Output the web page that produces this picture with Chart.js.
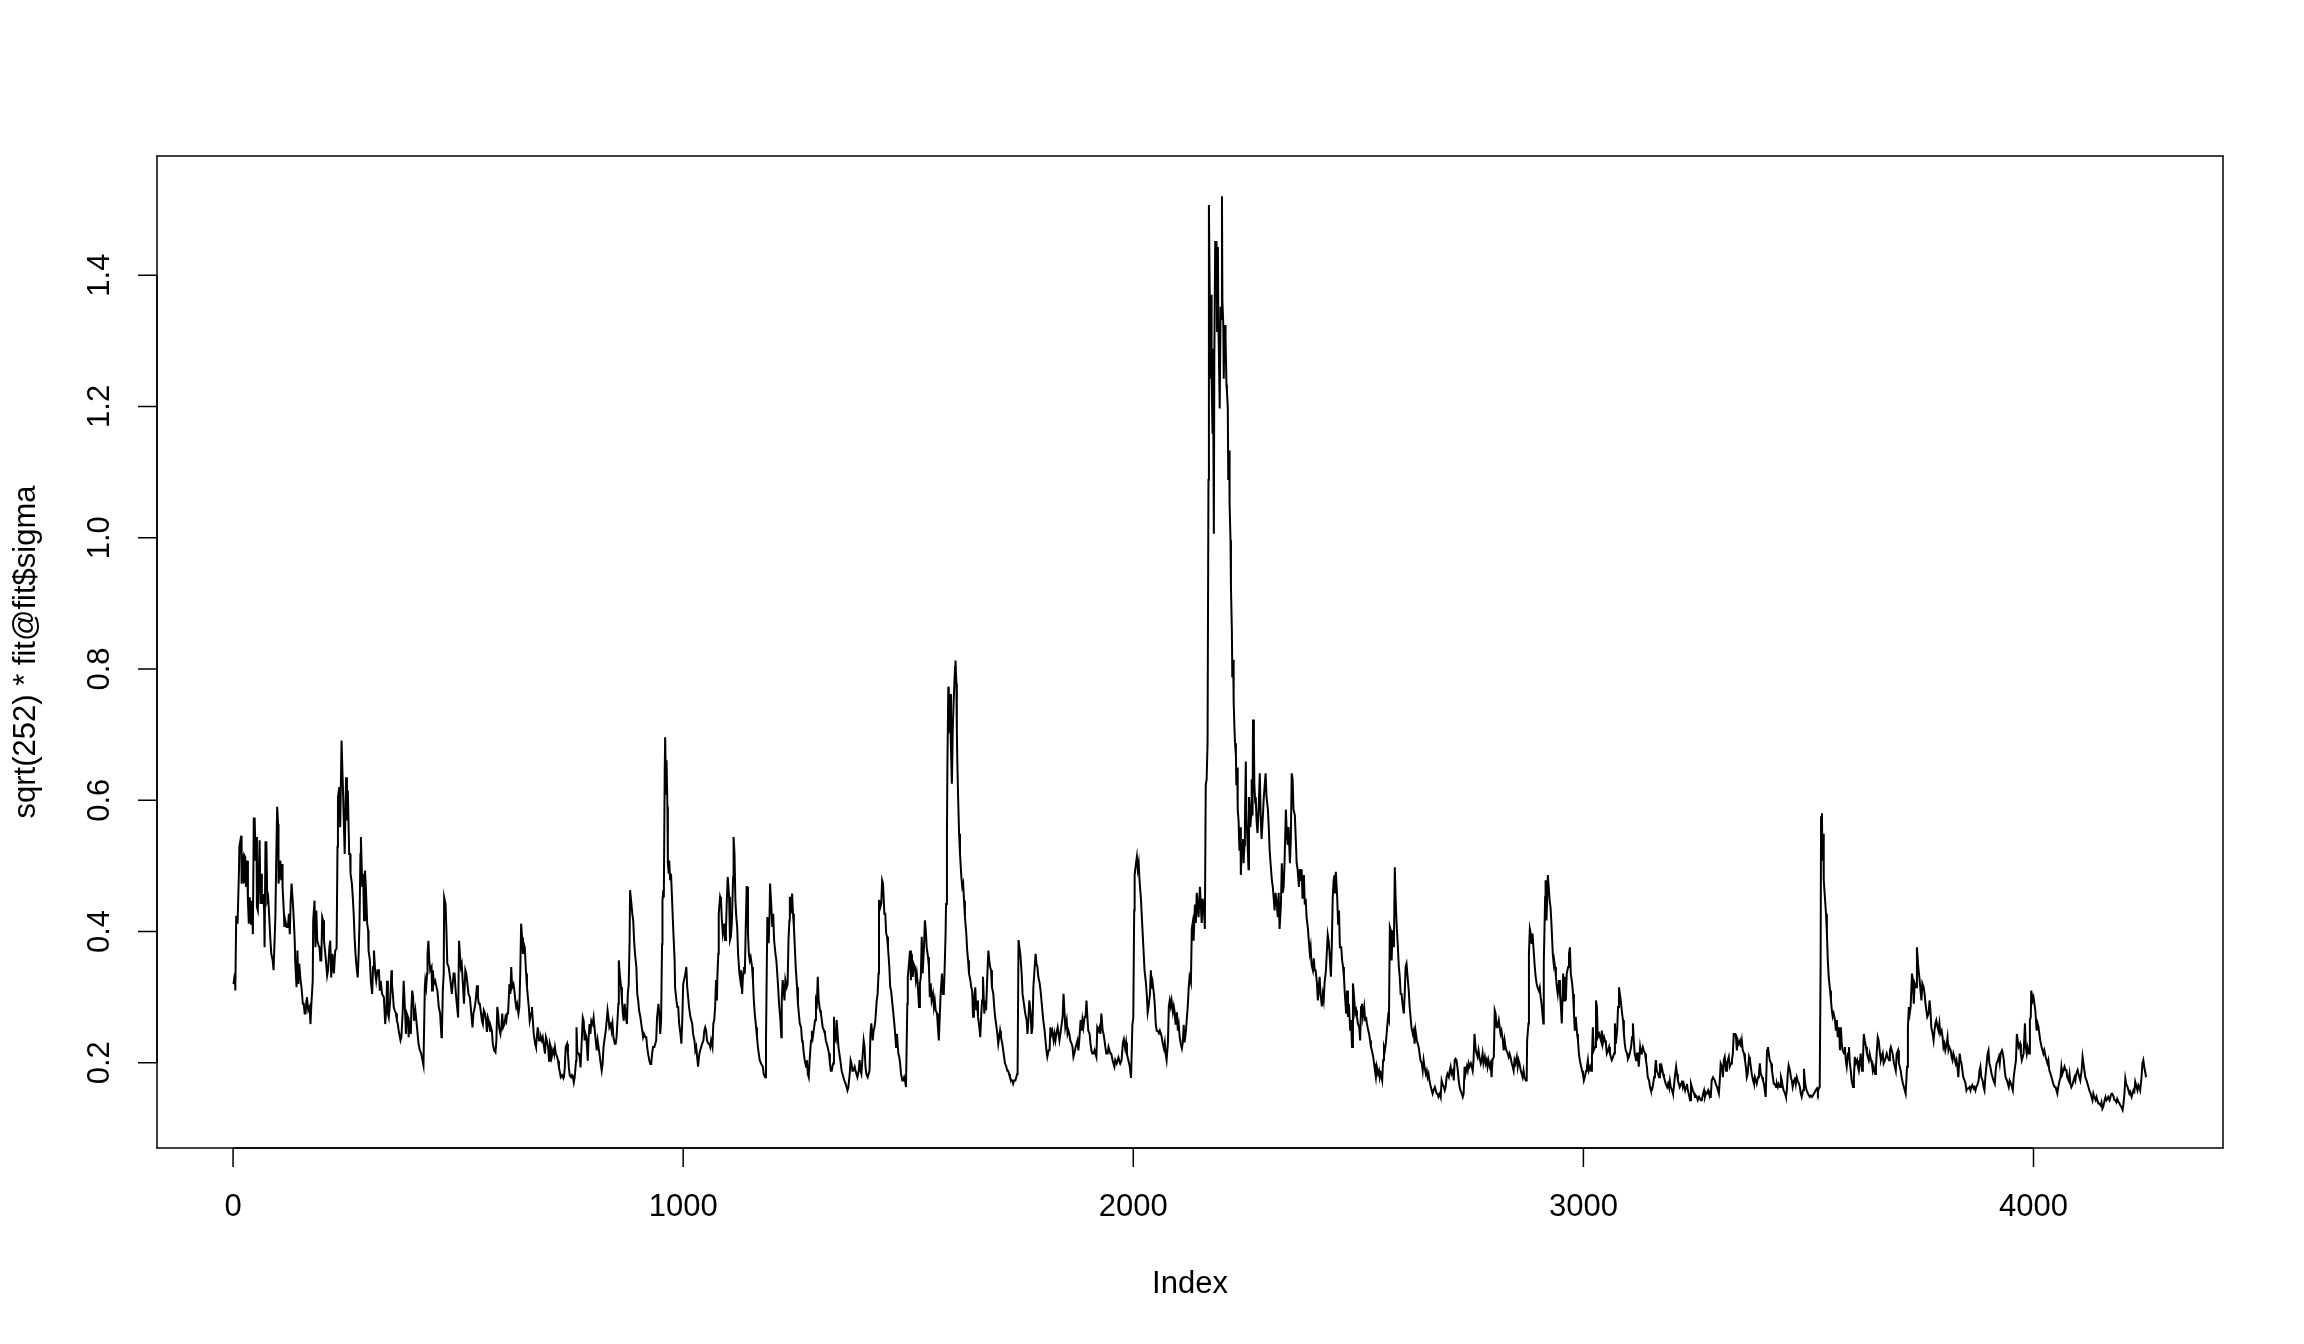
<!DOCTYPE html>
<html>
<head>
<meta charset="utf-8">
<script src="https://cdn.jsdelivr.net/npm/chart.js@4.4.0/dist/chart.umd.min.js"></script>
<style>
  html, body { margin: 0; padding: 0; background: #fff; }
  canvas { display: block; }
</style>
</head>
<body>
<canvas id="volChart" width="2304" height="1344"></canvas>
<script>
// axis ticks
const xTicks = [0, 1000, 2000, 3000, 4000];
const yTicks = [0.2, 0.4, 0.6, 0.8, 1.0, 1.2, 1.4];
const xTitle = 'Index';
const yTitle = 'sqrt(252) * fit@fit$sigma';

// annualised conditional volatility as [index, value]
const sigmaPoints = [
  [1,0.320],[4,0.336],[5,0.310],[7,0.424],[10,0.412],[13,0.490],[14,0.529],[18,0.546],[19,0.473],[21,0.518],[24,0.473],[25,0.516],[27,0.513],[29,0.468],[31,0.508],[33,0.447],[35,0.412],[37,0.452],[40,0.412],[42,0.447],[44,0.396],[46,0.572],[48,0.572],[50,0.508],[52,0.544],[53,0.437],[55,0.432],[57,0.488],[59,0.539],[61,0.442],[63,0.488],[64,0.442],[67,0.457],[69,0.432],[70,0.376],[72,0.536],[74,0.536],[76,0.447],[78,0.452],[80,0.427],[83,0.386],[85,0.366],[88,0.356],[90,0.341],[94,0.422],[96,0.513],[98,0.590],[100,0.564],[101,0.473],[105,0.508],[107,0.478],[109,0.503],[110,0.468],[113,0.427],[114,0.407],[116,0.417],[119,0.407],[122,0.407],[124,0.427],[126,0.396],[128,0.447],[130,0.473],[133,0.442],[135,0.417],[137,0.386],[138,0.356],[141,0.315],[143,0.371],[145,0.320],[147,0.351],[150,0.325],[152,0.315],[155,0.290],[157,0.290],[159,0.275],[161,0.275],[163,0.295],[164,0.300],[167,0.280],[170,0.285],[172,0.259],[174,0.290],[177,0.325],[178,0.417],[181,0.447],[183,0.376],[185,0.432],[187,0.386],[190,0.379],[192,0.376],[194,0.356],[196,0.356],[198,0.422],[200,0.417],[202,0.386],[205,0.366],[209,0.333],[211,0.341],[214,0.376],[216,0.386],[218,0.330],[221,0.366],[224,0.336],[227,0.371],[230,0.374],[232,0.529],[233,0.605],[236,0.620],[238,0.559],[241,0.691],[244,0.620],[246,0.569],[248,0.518],[251,0.635],[253,0.569],[255,0.615],[258,0.518],[260,0.518],[261,0.488],[264,0.473],[266,0.452],[268,0.427],[270,0.391],[272,0.366],[275,0.341],[277,0.330],[279,0.366],[281,0.417],[283,0.518],[284,0.544],[287,0.468],[289,0.488],[291,0.417],[293,0.493],[295,0.468],[298,0.412],[300,0.402],[301,0.371],[304,0.356],[306,0.325],[309,0.305],[311,0.346],[313,0.371],[316,0.336],[318,0.325],[321,0.341],[324,0.341],[326,0.310],[328,0.325],[331,0.305],[335,0.300],[338,0.259],[341,0.290],[342,0.325],[344,0.275],[346,0.269],[349,0.295],[352,0.341],[353,0.320],[355,0.305],[357,0.285],[359,0.280],[362,0.275],[364,0.264],[366,0.259],[368,0.249],[372,0.234],[374,0.239],[377,0.280],[379,0.325],[381,0.295],[383,0.264],[384,0.244],[386,0.275],[389,0.269],[390,0.239],[392,0.264],[395,0.244],[396,0.280],[398,0.310],[400,0.300],[402,0.264],[405,0.280],[408,0.259],[410,0.244],[412,0.229],[415,0.219],[418,0.214],[421,0.203],[423,0.196],[426,0.315],[427,0.325],[429,0.315],[431,0.336],[432,0.366],[434,0.386],[436,0.356],[438,0.341],[441,0.346],[442,0.310],[444,0.341],[446,0.320],[449,0.325],[452,0.315],[454,0.310],[457,0.285],[460,0.275],[463,0.239],[464,0.244],[466,0.310],[468,0.336],[469,0.452],[472,0.442],[474,0.402],[476,0.351],[479,0.346],[481,0.336],[483,0.325],[486,0.305],[490,0.336],[492,0.336],
  [495,0.305],[497,0.290],[500,0.269],[502,0.386],[504,0.386],[506,0.346],[508,0.351],[511,0.315],[513,0.290],[516,0.341],[518,0.336],[520,0.325],[523,0.305],[526,0.300],[528,0.285],[530,0.269],[532,0.254],[534,0.275],[537,0.285],[539,0.295],[542,0.318],[544,0.300],[546,0.290],[548,0.290],[551,0.275],[553,0.264],[555,0.259],[557,0.280],[560,0.275],[562,0.264],[564,0.247],[566,0.269],[568,0.264],[571,0.249],[573,0.254],[575,0.249],[577,0.229],[580,0.219],[583,0.216],[585,0.234],[587,0.285],[589,0.275],[591,0.254],[594,0.244],[596,0.254],[598,0.275],[600,0.254],[603,0.259],[605,0.269],[607,0.264],[609,0.275],[611,0.275],[614,0.320],[616,0.305],[618,0.346],[620,0.315],[623,0.320],[625,0.310],[627,0.295],[629,0.285],[631,0.290],[634,0.275],[636,0.285],[638,0.336],[640,0.412],[642,0.391],[644,0.366],[646,0.381],[648,0.376],[651,0.336],[653,0.315],[655,0.300],[657,0.285],[659,0.264],[662,0.275],[664,0.285],[666,0.264],[668,0.244],[671,0.229],[673,0.224],[675,0.239],[677,0.254],[680,0.234],[682,0.234],[684,0.239],[686,0.234],[688,0.239],[691,0.224],[693,0.214],[695,0.239],[697,0.234],[700,0.224],[702,0.203],[704,0.229],[706,0.224],[708,0.209],[711,0.219],[713,0.214],[715,0.224],[717,0.214],[720,0.209],[722,0.203],[724,0.193],[726,0.186],[728,0.178],[731,0.181],[733,0.178],[735,0.178],[737,0.193],[739,0.224],[742,0.229],[744,0.214],[746,0.193],[748,0.181],[751,0.178],[753,0.181],[755,0.178],[757,0.170],[759,0.178],[762,0.203],[763,0.254],[765,0.214],[768,0.214],[770,0.209],[772,0.193],[774,0.224],[777,0.269],[779,0.264],[781,0.234],[783,0.244],[785,0.239],[788,0.203],[790,0.239],[792,0.259],[794,0.244],[796,0.264],[799,0.259],[801,0.269],[803,0.254],[805,0.239],[808,0.219],[810,0.234],[812,0.224],[814,0.214],[816,0.203],[819,0.188],[821,0.198],[823,0.224],[825,0.234],[828,0.249],[830,0.264],[832,0.280],[834,0.269],[836,0.254],[839,0.259],[841,0.249],[843,0.259],[845,0.239],[848,0.229],[850,0.229],[852,0.239],[854,0.264],[856,0.290],[857,0.356],[859,0.336],[862,0.315],[864,0.295],[866,0.275],[868,0.264],[870,0.290],[873,0.269],[875,0.259],[877,0.305],[879,0.320],[881,0.386],[882,0.463],[885,0.442],[887,0.427],[889,0.417],[891,0.386],[893,0.366],[896,0.346],[898,0.305],[900,0.295],[902,0.280],[905,0.269],[907,0.259],[909,0.249],[911,0.239],[913,0.244],[916,0.239],[918,0.239],[920,0.224],[922,0.214],[925,0.203],[927,0.198],[929,0.198],[931,0.214],[933,0.224],[936,0.224],[938,0.229],[940,0.234],[942,0.269],[945,0.290],[947,0.275],[949,0.244],[951,0.264],[953,0.381],[954,0.447],[956,0.463],[957,0.452],[959,0.645],[960,0.696],[962,0.610],[963,0.661],[965,0.590],[966,0.503],[968,0.488],[969,0.508],[971,0.478],[973,0.488],[976,0.437],[978,0.402],[981,0.356],
  [982,0.315],[985,0.295],[987,0.285],[989,0.285],[991,0.260],[994,0.244],[996,0.229],[998,0.265],[1000,0.320],[1002,0.326],[1005,0.336],[1007,0.346],[1009,0.315],[1011,0.300],[1013,0.285],[1016,0.270],[1018,0.265],[1020,0.260],[1022,0.244],[1025,0.234],[1027,0.219],[1029,0.224],[1031,0.209],[1033,0.194],[1036,0.214],[1038,0.219],[1040,0.224],[1042,0.229],[1045,0.234],[1047,0.249],[1049,0.254],[1051,0.249],[1053,0.234],[1056,0.229],[1058,0.229],[1060,0.224],[1062,0.234],[1065,0.224],[1067,0.260],[1069,0.265],[1071,0.285],[1073,0.326],[1075,0.295],[1076,0.331],[1078,0.366],[1079,0.427],[1082,0.453],[1084,0.448],[1086,0.417],[1088,0.397],[1091,0.412],[1093,0.387],[1095,0.402],[1097,0.448],[1099,0.483],[1102,0.453],[1104,0.387],[1106,0.392],[1108,0.412],[1111,0.483],[1112,0.544],[1114,0.519],[1116,0.448],[1118,0.422],[1120,0.407],[1122,0.366],[1125,0.336],[1127,0.326],[1129,0.341],[1131,0.305],[1133,0.336],[1135,0.346],[1137,0.336],[1139,0.407],[1141,0.468],[1142,0.468],[1144,0.397],[1146,0.366],[1148,0.356],[1150,0.361],[1153,0.346],[1155,0.326],[1157,0.295],[1159,0.275],[1162,0.254],[1164,0.239],[1166,0.224],[1168,0.214],[1170,0.204],[1173,0.199],[1175,0.199],[1177,0.194],[1179,0.183],[1182,0.178],[1184,0.234],[1186,0.361],[1187,0.422],[1189,0.407],[1190,0.382],[1192,0.427],[1193,0.473],[1196,0.437],[1198,0.407],[1200,0.427],[1202,0.387],[1205,0.366],[1207,0.356],[1209,0.336],[1211,0.315],[1213,0.290],[1216,0.265],[1218,0.239],[1219,0.295],[1221,0.326],[1223,0.315],[1225,0.295],[1227,0.326],[1230,0.315],[1232,0.320],[1234,0.387],[1236,0.417],[1237,0.453],[1239,0.427],[1242,0.458],[1244,0.427],[1246,0.407],[1248,0.377],[1250,0.346],[1253,0.315],[1255,0.290],[1257,0.275],[1259,0.260],[1262,0.254],[1264,0.234],[1266,0.229],[1268,0.214],[1270,0.204],[1273,0.194],[1275,0.204],[1277,0.183],[1279,0.178],[1281,0.204],[1284,0.234],[1286,0.249],[1288,0.239],[1290,0.249],[1293,0.265],[1295,0.295],[1297,0.290],[1299,0.331],[1301,0.295],[1304,0.280],[1306,0.275],[1308,0.265],[1310,0.254],[1313,0.249],[1315,0.244],[1317,0.234],[1319,0.229],[1321,0.224],[1324,0.214],[1326,0.199],[1328,0.188],[1330,0.188],[1333,0.199],[1335,0.270],[1336,0.239],[1339,0.234],[1341,0.265],[1343,0.244],[1345,0.224],[1347,0.214],[1350,0.199],[1352,0.188],[1354,0.183],[1356,0.178],[1358,0.173],[1361,0.168],[1363,0.163],[1365,0.158],[1367,0.163],[1370,0.183],[1372,0.204],[1374,0.199],[1376,0.188],[1378,0.188],[1381,0.194],[1383,0.188],[1385,0.183],[1387,0.178],[1390,0.188],[1392,0.204],[1394,0.188],[1396,0.183],[1398,0.204],[1401,0.234],[1403,0.224],[1405,0.194],[1407,0.183],[1410,0.178],[1412,0.183],[1414,0.188],[1416,0.244],[1418,0.260],[1421,0.234],[1423,0.249],[1425,0.254],[1427,0.265],[1430,0.295],[1432,0.305],[1434,0.336],[1435,0.448],[1438,0.437],[1440,0.442],[1442,0.478],[1444,0.473],[1447,0.427],
  [1449,0.427],[1451,0.397],[1453,0.392],[1455,0.376],[1458,0.346],[1460,0.315],[1462,0.310],[1464,0.295],[1467,0.275],[1469,0.260],[1471,0.244],[1473,0.224],[1475,0.244],[1478,0.214],[1480,0.209],[1482,0.199],[1484,0.183],[1487,0.173],[1489,0.173],[1491,0.178],[1493,0.173],[1495,0.163],[1498,0.290],[1499,0.331],[1501,0.346],[1504,0.371],[1506,0.326],[1508,0.366],[1510,0.331],[1512,0.351],[1515,0.346],[1517,0.326],[1519,0.336],[1521,0.321],[1524,0.285],[1526,0.321],[1528,0.331],[1530,0.392],[1532,0.336],[1535,0.376],[1537,0.417],[1539,0.402],[1541,0.376],[1544,0.361],[1546,0.346],[1548,0.300],[1550,0.321],[1552,0.295],[1555,0.305],[1557,0.285],[1559,0.295],[1561,0.280],[1564,0.275],[1566,0.254],[1568,0.234],[1570,0.270],[1572,0.305],[1575,0.336],[1577,0.305],[1579,0.305],[1581,0.346],[1583,0.397],[1584,0.442],[1586,0.549],[1587,0.651],[1589,0.773],[1590,0.768],[1592,0.702],[1593,0.762],[1595,0.676],[1597,0.625],[1599,0.712],[1601,0.752],[1604,0.803],[1605,0.813],[1607,0.778],[1608,0.707],[1609,0.661],[1611,0.600],[1613,0.549],[1615,0.519],[1618,0.483],[1620,0.468],[1622,0.473],[1624,0.447],[1626,0.422],[1629,0.397],[1631,0.371],[1633,0.356],[1635,0.336],[1638,0.326],[1640,0.315],[1642,0.310],[1644,0.270],[1646,0.295],[1649,0.315],[1651,0.280],[1653,0.295],[1655,0.270],[1658,0.254],[1660,0.239],[1662,0.270],[1664,0.295],[1666,0.331],[1669,0.275],[1671,0.295],[1673,0.280],[1675,0.321],[1678,0.371],[1680,0.356],[1682,0.346],[1684,0.341],[1686,0.315],[1689,0.305],[1691,0.285],[1693,0.270],[1695,0.260],[1698,0.244],[1700,0.229],[1702,0.239],[1704,0.249],[1706,0.239],[1709,0.229],[1711,0.219],[1713,0.209],[1715,0.199],[1718,0.194],[1720,0.188],[1722,0.188],[1724,0.183],[1726,0.178],[1729,0.173],[1731,0.173],[1733,0.168],[1735,0.173],[1738,0.173],[1740,0.178],[1742,0.183],[1743,0.188],[1745,0.387],[1747,0.376],[1749,0.366],[1752,0.336],[1754,0.305],[1756,0.295],[1758,0.285],[1760,0.275],[1763,0.265],[1765,0.244],[1767,0.265],[1769,0.295],[1772,0.275],[1774,0.244],[1776,0.254],[1778,0.315],[1780,0.336],[1783,0.366],[1785,0.351],[1787,0.346],[1789,0.331],[1792,0.321],[1794,0.310],[1796,0.295],[1798,0.280],[1800,0.265],[1803,0.249],[1805,0.234],[1807,0.219],[1809,0.209],[1812,0.219],[1814,0.219],[1816,0.254],[1818,0.244],[1820,0.249],[1823,0.234],[1825,0.244],[1827,0.234],[1829,0.244],[1832,0.254],[1834,0.244],[1836,0.234],[1838,0.244],[1840,0.254],[1843,0.270],[1845,0.305],[1847,0.280],[1849,0.254],[1852,0.265],[1854,0.244],[1856,0.249],[1858,0.244],[1860,0.234],[1863,0.229],[1865,0.224],[1867,0.209],[1869,0.214],[1872,0.224],[1874,0.229],[1876,0.234],[1878,0.219],[1880,0.234],[1883,0.265],[1885,0.249],[1887,0.265],[1889,0.254],[1892,0.270],[1894,0.270],[1896,0.295],[1898,0.270],[1900,0.249],[1903,0.244],[1905,0.229],[1907,0.219],[1909,0.214],[1912,0.214],[1914,0.219],[1916,0.214],[1918,0.209],[1920,0.254],[1923,0.249],[1925,0.254],[1927,0.244],[1929,0.275],[1932,0.249],[1934,0.244],[1936,0.234],[1938,0.224],[1940,0.214],[1943,0.214],[1945,0.224],[1947,0.219],[1949,0.214],[1951,0.214],[1954,0.204],[1956,0.199],[1958,0.194],
  [1960,0.204],[1963,0.199],[1967,0.208],[1971,0.199],[1974,0.204],[1977,0.231],[1979,0.236],[1982,0.222],[1984,0.231],[1986,0.213],[1989,0.204],[1992,0.195],[1995,0.177],[1998,0.258],[2000,0.268],[2002,0.432],[2003,0.486],[2006,0.504],[2008,0.514],[2010,0.495],[2012,0.504],[2014,0.477],[2017,0.450],[2019,0.422],[2021,0.395],[2023,0.368],[2025,0.341],[2028,0.322],[2030,0.304],[2032,0.277],[2034,0.286],[2037,0.304],[2039,0.341],[2041,0.313],[2043,0.322],[2046,0.304],[2048,0.286],[2050,0.258],[2052,0.249],[2054,0.249],[2057,0.245],[2059,0.249],[2061,0.245],[2063,0.240],[2065,0.231],[2068,0.222],[2070,0.231],[2072,0.213],[2074,0.204],[2077,0.231],[2079,0.286],[2081,0.295],[2083,0.286],[2085,0.295],[2088,0.277],[2090,0.286],[2092,0.277],[2094,0.258],[2097,0.277],[2099,0.249],[2101,0.258],[2103,0.240],[2105,0.231],[2108,0.222],[2110,0.231],[2112,0.258],[2114,0.231],[2117,0.249],[2119,0.268],[2121,0.286],[2123,0.313],[2125,0.331],[2128,0.322],[2130,0.404],[2132,0.413],[2134,0.386],[2137,0.441],[2139,0.413],[2141,0.459],[2143,0.441],[2145,0.422],[2148,0.468],[2150,0.441],[2152,0.413],[2154,0.450],[2157,0.432],[2159,0.404],[2161,0.623],[2163,0.632],[2165,0.687],[2167,1.088],[2168,1.507],[2170,1.361],[2171,1.242],[2173,1.370],[2174,1.242],[2176,1.160],[2177,1.288],[2179,1.006],[2180,1.270],[2182,1.452],[2183,1.425],[2185,1.452],[2186,1.315],[2188,1.443],[2189,1.333],[2191,1.242],[2192,1.197],[2194,1.352],[2195,1.333],[2197,1.520],[2198,1.361],[2200,1.324],[2201,1.242],[2202,1.297],[2204,1.324],[2205,1.306],[2207,1.233],[2208,1.224],[2210,1.197],[2211,1.088],[2213,1.133],[2214,1.051],[2216,0.996],[2217,0.924],[2219,0.860],[2220,0.787],[2222,0.814],[2223,0.750],[2225,0.705],[2226,0.687],[2228,0.668],[2229,0.623],[2231,0.650],[2232,0.586],[2234,0.568],[2235,0.541],[2236,0.523],[2238,0.559],[2239,0.486],[2241,0.532],[2242,0.514],[2244,0.541],[2245,0.504],[2247,0.532],[2248,0.568],[2250,0.659],[2251,0.586],[2253,0.550],[2254,0.532],[2256,0.495],[2257,0.605],[2259,0.586],[2260,0.559],[2262,0.577],[2263,0.632],[2265,0.577],[2266,0.723],[2268,0.687],[2269,0.623],[2271,0.596],[2272,0.605],[2274,0.568],[2276,0.550],[2279,0.596],[2281,0.641],[2283,0.577],[2285,0.541],[2288,0.577],[2290,0.605],[2292,0.623],[2294,0.641],[2296,0.605],[2299,0.586],[2301,0.559],[2303,0.523],[2305,0.504],[2308,0.477],[2310,0.468],[2312,0.450],[2314,0.432],[2316,0.459],[2319,0.441],[2321,0.422],[2323,0.459],[2325,0.404],[2328,0.441],[2330,0.504],[2332,0.459],[2334,0.468],[2336,0.504],[2339,0.586],[2341,0.550],[2343,0.532],[2345,0.559],[2348,0.504],[2350,0.541],[2352,0.641],[2354,0.632],[2356,0.586],[2359,0.577],[2361,0.541],[2363,0.504],[2365,0.495],[2368,0.468],[2370,0.495],[2372,0.477],[2374,0.495],[2376,0.450],[2379,0.486],[2381,0.441],[2383,0.450],[2385,0.422],[2388,0.404],[2390,0.386],[2392,0.368],[2394,0.377],[2396,0.350],[2399,0.341],[2401,0.359],[2403,0.341],[2405,0.341],[2408,0.322],[2410,0.295],[2412,0.313],[2414,0.331],[2416,0.304],[2419,0.286],[2421,0.304],[2423,0.295],[2425,0.322],[2428,0.341],[2430,0.368],[2432,0.395],[2434,0.386],[2436,0.368],[2439,0.331],[2441,0.377],[2443,0.450],[2445,0.477],[2447,0.486],
  [2448,0.458],[2450,0.491],[2453,0.453],[2455,0.412],[2457,0.432],[2459,0.376],[2462,0.376],[2464,0.356],[2466,0.346],[2468,0.331],[2470,0.305],[2473,0.275],[2475,0.310],[2477,0.270],[2479,0.290],[2482,0.249],[2484,0.265],[2486,0.224],[2488,0.321],[2490,0.305],[2493,0.275],[2495,0.280],[2497,0.270],[2499,0.260],[2502,0.254],[2504,0.234],[2506,0.285],[2508,0.290],[2510,0.270],[2513,0.285],[2515,0.265],[2517,0.270],[2519,0.260],[2522,0.249],[2524,0.244],[2526,0.234],[2528,0.224],[2530,0.219],[2533,0.209],[2535,0.199],[2537,0.188],[2539,0.178],[2541,0.194],[2544,0.183],[2546,0.188],[2548,0.178],[2550,0.183],[2553,0.173],[2555,0.204],[2557,0.224],[2559,0.219],[2561,0.229],[2564,0.254],[2566,0.270],[2568,0.265],[2570,0.407],[2572,0.402],[2574,0.356],[2576,0.402],[2579,0.376],[2581,0.498],[2583,0.447],[2585,0.412],[2587,0.387],[2590,0.346],[2592,0.331],[2594,0.305],[2596,0.305],[2598,0.290],[2601,0.275],[2603,0.305],[2605,0.346],[2607,0.351],[2610,0.326],[2612,0.310],[2614,0.285],[2616,0.270],[2618,0.254],[2621,0.244],[2623,0.249],[2625,0.229],[2627,0.249],[2630,0.234],[2632,0.229],[2634,0.224],[2636,0.214],[2638,0.204],[2641,0.199],[2643,0.188],[2645,0.204],[2647,0.194],[2650,0.183],[2652,0.188],[2654,0.178],[2656,0.183],[2658,0.173],[2661,0.163],[2663,0.158],[2665,0.153],[2667,0.158],[2670,0.163],[2672,0.158],[2674,0.153],[2676,0.153],[2678,0.148],[2681,0.153],[2683,0.148],[2685,0.173],[2687,0.168],[2690,0.163],[2692,0.158],[2694,0.163],[2696,0.178],[2698,0.183],[2701,0.178],[2703,0.188],[2705,0.194],[2707,0.183],[2710,0.188],[2712,0.173],[2714,0.204],[2716,0.206],[2718,0.204],[2721,0.188],[2723,0.173],[2725,0.163],[2727,0.158],[2730,0.153],[2732,0.148],[2734,0.153],[2736,0.194],[2738,0.183],[2741,0.194],[2743,0.188],[2745,0.199],[2747,0.194],[2750,0.199],[2752,0.194],[2754,0.188],[2756,0.204],[2758,0.244],[2761,0.219],[2763,0.214],[2765,0.209],[2767,0.219],[2769,0.209],[2772,0.199],[2774,0.204],[2776,0.214],[2778,0.199],[2781,0.209],[2783,0.199],[2785,0.204],[2787,0.194],[2789,0.204],[2792,0.194],[2794,0.199],[2796,0.178],[2798,0.204],[2801,0.209],[2803,0.280],[2805,0.275],[2807,0.254],[2809,0.254],[2812,0.265],[2814,0.254],[2816,0.244],[2818,0.249],[2821,0.234],[2823,0.219],[2825,0.234],[2827,0.224],[2829,0.219],[2832,0.214],[2834,0.209],[2836,0.214],[2838,0.209],[2841,0.199],[2843,0.194],[2845,0.188],[2847,0.204],[2849,0.199],[2852,0.209],[2854,0.194],[2856,0.204],[2858,0.199],[2861,0.188],[2863,0.183],[2865,0.178],[2867,0.188],[2869,0.178],[2872,0.173],[2874,0.173],[2875,0.234],[2878,0.260],[2879,0.366],[2881,0.404],[2883,0.397],[2885,0.381],[2887,0.397],[2889,0.376],[2892,0.346],[2894,0.331],[2896,0.321],[2898,0.315],[2901,0.310],[2903,0.315],[2905,0.300],[2907,0.290],[2909,0.275],[2911,0.260],[2912,0.351],[2915,0.453],[2916,0.478],[2918,0.417],[2921,0.486],[2923,0.468],[2925,0.447],[2927,0.437],[2929,0.412],[2932,0.366],[2934,0.351],
  [2935,0.356],[2937,0.346],[2939,0.331],[2941,0.315],[2943,0.305],[2946,0.326],[2948,0.305],[2950,0.285],[2952,0.260],[2955,0.336],[2957,0.295],[2959,0.331],[2961,0.295],[2963,0.336],[2966,0.346],[2968,0.366],[2970,0.376],[2972,0.336],[2975,0.321],[2977,0.305],[2979,0.275],[2981,0.249],[2983,0.270],[2986,0.244],[2988,0.234],[2990,0.214],[2992,0.204],[2995,0.194],[2997,0.188],[2999,0.183],[3001,0.173],[3003,0.178],[3006,0.188],[3008,0.194],[3010,0.204],[3012,0.188],[3015,0.194],[3017,0.188],[3019,0.209],[3021,0.254],[3023,0.219],[3026,0.224],[3028,0.295],[3030,0.285],[3032,0.239],[3035,0.244],[3037,0.239],[3039,0.234],[3041,0.249],[3043,0.229],[3046,0.239],[3048,0.234],[3050,0.229],[3052,0.214],[3055,0.219],[3057,0.224],[3059,0.214],[3061,0.209],[3063,0.204],[3066,0.209],[3068,0.214],[3070,0.260],[3072,0.229],[3075,0.249],[3077,0.285],[3079,0.315],[3081,0.305],[3083,0.295],[3086,0.275],[3088,0.265],[3090,0.244],[3092,0.229],[3094,0.219],[3097,0.214],[3099,0.206],[3101,0.209],[3103,0.214],[3106,0.224],[3108,0.239],[3110,0.260],[3112,0.234],[3114,0.214],[3117,0.204],[3119,0.214],[3121,0.214],[3123,0.194],[3126,0.224],[3128,0.214],[3130,0.219],[3132,0.224],[3134,0.219],[3137,0.214],[3139,0.204],[3141,0.194],[3143,0.178],[3146,0.173],[3148,0.163],[3150,0.158],[3152,0.158],[3154,0.163],[3157,0.178],[3159,0.188],[3161,0.204],[3163,0.188],[3166,0.183],[3168,0.178],[3170,0.199],[3172,0.188],[3174,0.194],[3177,0.183],[3179,0.178],[3181,0.173],[3183,0.168],[3186,0.163],[3188,0.168],[3190,0.163],[3192,0.173],[3194,0.163],[3197,0.158],[3199,0.153],[3201,0.163],[3203,0.178],[3206,0.194],[3208,0.183],[3210,0.173],[3212,0.168],[3214,0.163],[3217,0.168],[3219,0.173],[3221,0.163],[3223,0.168],[3226,0.158],[3228,0.163],[3230,0.168],[3232,0.158],[3234,0.153],[3237,0.143],[3239,0.168],[3241,0.163],[3243,0.158],[3246,0.153],[3248,0.148],[3250,0.150],[3252,0.148],[3254,0.143],[3257,0.148],[3259,0.148],[3261,0.143],[3263,0.143],[3266,0.153],[3268,0.158],[3270,0.148],[3272,0.153],[3274,0.153],[3277,0.158],[3279,0.153],[3281,0.148],[3283,0.148],[3285,0.173],[3288,0.178],[3290,0.178],[3292,0.173],[3294,0.168],[3297,0.163],[3299,0.158],[3301,0.153],[3303,0.173],[3305,0.199],[3308,0.194],[3310,0.178],[3312,0.204],[3314,0.209],[3317,0.188],[3319,0.199],[3321,0.204],[3323,0.209],[3325,0.194],[3328,0.199],[3330,0.204],[3332,0.214],[3334,0.244],[3337,0.244],[3339,0.239],[3341,0.219],[3343,0.234],[3345,0.229],[3348,0.234],[3350,0.224],[3352,0.234],[3354,0.219],[3357,0.214],[3359,0.204],[3361,0.194],[3363,0.178],[3365,0.183],[3368,0.209],[3370,0.204],[3372,0.194],[3374,0.183],[3377,0.173],[3379,0.168],[3381,0.178],[3383,0.173],[3385,0.168],[3388,0.178],[3390,0.183],[3392,0.199],[3394,0.183],[3397,0.178],[3399,0.173],[3401,0.168],[3403,0.158],[3405,0.148],[3408,0.219],[3410,0.224],[3412,0.214],[3414,0.204],[3417,0.199],[3419,0.188],[3421,0.178],[3423,0.168],
  [3425,0.168],[3428,0.163],[3430,0.168],[3432,0.163],[3434,0.168],[3437,0.163],[3439,0.178],[3441,0.173],[3443,0.163],[3445,0.158],[3448,0.153],[3450,0.148],[3452,0.158],[3454,0.183],[3456,0.196],[3459,0.188],[3461,0.178],[3463,0.173],[3465,0.163],[3468,0.173],[3470,0.178],[3472,0.168],[3474,0.178],[3476,0.173],[3479,0.168],[3481,0.163],[3483,0.153],[3485,0.148],[3488,0.158],[3490,0.191],[3492,0.173],[3494,0.163],[3496,0.158],[3499,0.153],[3501,0.150],[3503,0.148],[3505,0.150],[3508,0.148],[3510,0.148],[3512,0.153],[3514,0.155],[3516,0.158],[3519,0.161],[3521,0.155],[3523,0.161],[3525,0.163],[3527,0.346],[3528,0.574],[3530,0.580],[3531,0.508],[3533,0.549],[3534,0.478],[3536,0.458],[3539,0.427],[3541,0.397],[3543,0.356],[3545,0.331],[3548,0.310],[3550,0.295],[3552,0.280],[3554,0.270],[3556,0.275],[3559,0.265],[3561,0.249],[3563,0.265],[3565,0.239],[3568,0.254],[3570,0.219],[3572,0.254],[3574,0.229],[3576,0.219],[3579,0.214],[3581,0.224],[3583,0.204],[3585,0.194],[3588,0.214],[3590,0.224],[3592,0.199],[3594,0.188],[3596,0.173],[3599,0.163],[3601,0.178],[3603,0.209],[3605,0.199],[3608,0.204],[3610,0.194],[3612,0.188],[3614,0.199],[3616,0.214],[3619,0.188],[3621,0.204],[3623,0.244],[3625,0.234],[3628,0.224],[3630,0.214],[3632,0.209],[3634,0.204],[3636,0.214],[3639,0.204],[3641,0.199],[3643,0.188],[3645,0.194],[3648,0.183],[3650,0.194],[3652,0.219],[3654,0.239],[3656,0.234],[3659,0.214],[3661,0.204],[3663,0.209],[3665,0.214],[3667,0.199],[3670,0.204],[3672,0.209],[3674,0.214],[3676,0.209],[3679,0.204],[3681,0.219],[3683,0.224],[3685,0.219],[3687,0.214],[3690,0.199],[3692,0.194],[3694,0.188],[3696,0.214],[3699,0.219],[3701,0.199],[3703,0.194],[3705,0.188],[3707,0.178],[3710,0.168],[3712,0.163],[3714,0.158],[3716,0.153],[3719,0.194],[3721,0.254],[3723,0.285],[3725,0.275],[3727,0.285],[3730,0.336],[3732,0.326],[3734,0.290],[3736,0.321],[3739,0.315],[3741,0.376],[3742,0.366],[3744,0.346],[3747,0.326],[3749,0.310],[3751,0.295],[3753,0.321],[3756,0.315],[3758,0.305],[3760,0.290],[3762,0.280],[3764,0.270],[3767,0.275],[3769,0.295],[3771,0.280],[3773,0.254],[3776,0.244],[3778,0.234],[3780,0.249],[3782,0.260],[3784,0.265],[3787,0.254],[3789,0.249],[3791,0.260],[3793,0.244],[3796,0.249],[3798,0.239],[3800,0.224],[3802,0.229],[3804,0.219],[3807,0.229],[3809,0.239],[3811,0.219],[3813,0.224],[3816,0.219],[3818,0.209],[3820,0.204],[3822,0.214],[3824,0.209],[3827,0.199],[3829,0.204],[3831,0.194],[3833,0.178],[3836,0.214],[3838,0.204],[3840,0.199],[3842,0.188],[3844,0.178],[3847,0.173],[3849,0.168],[3851,0.158],[3853,0.161],[3856,0.161],[3858,0.163],[3860,0.158],[3862,0.163],[3864,0.166],[3867,0.161],[3869,0.163],[3871,0.158],[3873,0.163],[3876,0.168],[3878,0.173],[3880,0.188],[3882,0.194],[3884,0.178],[3887,0.173],[3889,0.163],[3891,0.158],[3893,0.178],[3896,0.199],[3898,0.214],[3900,0.219],[3902,0.199],[3904,0.194],[3907,0.183],[3909,0.178],[3911,0.173],
  [3912,0.173],[3914,0.168],[3916,0.189],[3918,0.199],[3921,0.204],[3923,0.209],[3925,0.199],[3927,0.214],[3930,0.219],[3932,0.214],[3934,0.204],[3936,0.189],[3938,0.178],[3941,0.173],[3943,0.168],[3945,0.163],[3947,0.173],[3950,0.168],[3952,0.163],[3954,0.158],[3956,0.178],[3958,0.189],[3961,0.204],[3963,0.244],[3965,0.234],[3967,0.224],[3970,0.229],[3972,0.214],[3974,0.204],[3976,0.209],[3978,0.214],[3981,0.260],[3983,0.224],[3985,0.214],[3987,0.224],[3990,0.214],[3992,0.265],[3994,0.270],[3995,0.310],[3998,0.295],[4000,0.300],[4002,0.290],[4004,0.280],[4007,0.249],[4009,0.260],[4011,0.255],[4013,0.244],[4015,0.234],[4018,0.224],[4020,0.219],[4022,0.214],[4024,0.219],[4027,0.209],[4029,0.204],[4031,0.199],[4033,0.204],[4035,0.189],[4038,0.183],[4040,0.178],[4042,0.173],[4044,0.168],[4047,0.163],[4049,0.163],[4051,0.158],[4053,0.153],[4055,0.163],[4058,0.173],[4060,0.178],[4062,0.194],[4064,0.183],[4067,0.189],[4069,0.194],[4071,0.189],[4073,0.189],[4075,0.178],[4078,0.173],[4080,0.183],[4082,0.168],[4084,0.163],[4087,0.168],[4089,0.173],[4091,0.178],[4093,0.173],[4095,0.183],[4098,0.189],[4100,0.183],[4102,0.178],[4104,0.173],[4107,0.189],[4109,0.209],[4111,0.199],[4113,0.189],[4115,0.178],[4118,0.173],[4120,0.168],[4122,0.163],[4124,0.158],[4127,0.153],[4129,0.148],[4131,0.143],[4133,0.153],[4135,0.148],[4138,0.143],[4140,0.148],[4142,0.143],[4144,0.138],[4146,0.138],[4149,0.135],[4151,0.140],[4153,0.130],[4155,0.133],[4158,0.143],[4160,0.148],[4162,0.143],[4164,0.145],[4166,0.148],[4169,0.143],[4171,0.148],[4173,0.153],[4175,0.153],[4178,0.148],[4180,0.143],[4182,0.143],[4184,0.140],[4186,0.145],[4189,0.140],[4191,0.138],[4193,0.135],[4195,0.133],[4198,0.128],[4200,0.138],[4202,0.153],[4204,0.176],[4206,0.168],[4209,0.163],[4211,0.158],[4213,0.153],[4215,0.156],[4218,0.148],[4220,0.153],[4222,0.158],[4224,0.156],[4226,0.171],[4229,0.163],[4231,0.158],[4233,0.166],[4235,0.163],[4237,0.158],[4240,0.178],[4242,0.199],[4244,0.204],[4246,0.194],[4249,0.183],[4250,0.178]
];

const FONT = '"Liberation Sans", Arial, Helvetica, sans-serif';

// R-style box, ticks and labels drawn from the chart's own scales
const baseGraphics = {
    id: 'baseGraphics',
    afterDraw(chart) {
        const { ctx, chartArea: a, scales } = chart;
        const xs = scales.x, ys = scales.y;
        ctx.save();
        ctx.strokeStyle = '#000';
        ctx.fillStyle = '#000';
        ctx.lineWidth = 1.5;
        ctx.strokeRect(a.left, a.top, a.right - a.left, a.bottom - a.top);

        // bottom axis
        ctx.beginPath();
        ctx.moveTo(xs.getPixelForValue(xTicks[0]), a.bottom);
        ctx.lineTo(xs.getPixelForValue(xTicks[xTicks.length - 1]), a.bottom);
        xTicks.forEach(v => {
            const px = xs.getPixelForValue(v);
            ctx.moveTo(px, a.bottom);
            ctx.lineTo(px, a.bottom + 19);
        });
        // left axis
        ctx.moveTo(a.left, ys.getPixelForValue(yTicks[0]));
        ctx.lineTo(a.left, ys.getPixelForValue(yTicks[yTicks.length - 1]));
        yTicks.forEach(v => {
            const py = ys.getPixelForValue(v);
            ctx.moveTo(a.left, py);
            ctx.lineTo(a.left - 19, py);
        });
        ctx.stroke();

        ctx.font = '31px ' + FONT;
        ctx.textAlign = 'center';
        ctx.textBaseline = 'middle';
        xTicks.forEach(v => ctx.fillText(String(v), xs.getPixelForValue(v), a.bottom + 59));
        yTicks.forEach(v => {
            ctx.save();
            ctx.translate(a.left - 57, ys.getPixelForValue(v));
            ctx.rotate(-Math.PI / 2);
            ctx.fillText(v.toFixed(1), 0, 0);
            ctx.restore();
        });

        // axis titles
        ctx.fillText(xTitle, (a.left + a.right) / 2, a.bottom + 136);
        ctx.save();
        ctx.translate(a.left - 131, (a.top + a.bottom) / 2);
        ctx.rotate(-Math.PI / 2);
        ctx.fillText(yTitle, 0, 0);
        ctx.restore();
        ctx.restore();
    }
};

new Chart(document.getElementById('volChart').getContext('2d'), {
    type: 'line',
    data: {
        datasets: [{
            data: sigmaPoints.map(([i, v]) => ({ x: i, y: v })),
            borderColor: '#000',
            borderWidth: 2,
            pointRadius: 0,
            tension: 0,
            fill: false
        }]
    },
    options: {
        responsive: false,
        devicePixelRatio: 1,
        animation: false,
        events: [],
        layout: { padding: { left: 157, top: 156, right: 81, bottom: 196 } },
        plugins: { legend: { display: false }, tooltip: { enabled: false } },
        scales: {
            x: { type: 'linear', min: -169, max: 4421, display: false },
            y: { type: 'linear', min: 0.0702, max: 1.5815, display: false }
        }
    },
    plugins: [baseGraphics]
});
</script>
</body>
</html>
